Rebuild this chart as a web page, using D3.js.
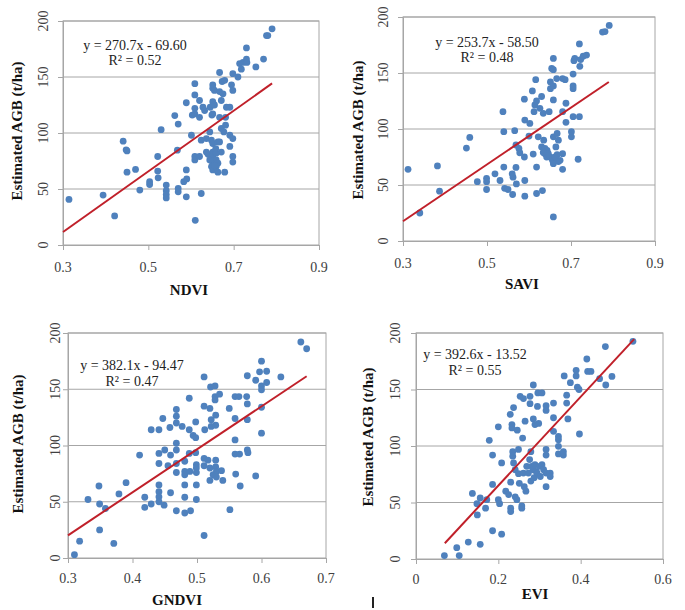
<!DOCTYPE html>
<html><head><meta charset="utf-8">
<script src="https://cdnjs.cloudflare.com/ajax/libs/d3/7.8.5/d3.min.js"></script>
<style>body{margin:0;background:#fff}svg{display:block}</style>
</head><body><svg id="c" width="685" height="610"></svg>
<script>
// ---------- data ----------
const yTicks = [0, 50, 100, 150, 200];
const ndviTicks = [0.3, 0.5, 0.7, 0.9];
const saviTicks = [0.3, 0.5, 0.7, 0.9];
const gndviTicks = [0.3, 0.4, 0.5, 0.6, 0.7];
const eviTicks = [0, 0.2, 0.4, 0.6];
const titles = ["NDVI", "SAVI", "GNDVI", "EVI"];
const equations = ["y = 270.7x - 69.60", "y = 253.7x - 58.50", "y = 382.1x - 94.47", "y = 392.6x - 13.52"];
const r2Labels = ["R\u00B2 = 0.52", "R\u00B2 = 0.48", "R\u00B2 = 0.47", "R\u00B2 = 0.55"];
const slopes = [270.7, 253.7, 382.1, 392.6];
const intercepts = [-69.60, -58.50, -94.47, -13.52];
const fitRanges = [[0.3, 0.79], [0.3, 0.79], [0.3, 0.67], [0.07, 0.53]];

const ndviPoints = [
[0.314,40.7],[0.394,44.6],[0.421,26],[0.441,92.7],[0.448,85],[0.45,84],[0.45,65],[0.470,67.5],[0.48,49],
[0.503,56.5],[0.503,54],[0.522,79],[0.522,66],[0.523,60],[0.530,103],[0.542,53.5],[0.542,48.5],[0.542,45],
[0.542,42],[0.562,115.6],[0.570,108],[0.568,84.7],[0.57,50.5],[0.57,47.5],[0.583,56.5],[0.589,127],[0.589,67],
[0.59,59],[0.589,43],[0.601,98],[0.603,116],[0.609,144],[0.609,134],[0.609,122],[0.609,117],[0.609,79],
[0.609,76],[0.61,22],[0.62,129],[0.62,114],[0.624,93.6],[0.62,79],[0.624,46],[0.628,123],[0.632,120],
[0.636,95],[0.64,81],[0.644,101],[0.645,123],[0.648,93.6],[0.649,116],[0.651,143],[0.651,140],[0.651,128],
[0.651,117],[0.651,90.6],[0.651,83],[0.651,79],[0.651,73],[0.651,67],[0.655,138],[0.655,125],[0.658,86],
[0.659,82],[0.659,76],[0.659,70],[0.663,92],[0.663,73],[0.667,154],[0.667,137],[0.667,114],[0.667,92],
[0.671,129],[0.671,104],[0.673,146],[0.675,135],[0.677,101],[0.679,147],[0.679,65],[0.681,114],[0.681,107],
[0.683,123],[0.691,123],[0.691,98],[0.691,88],[0.695,143],[0.698,153],[0.698,138],[0.698,95],[0.698,74],
[0.698,79],[0.71,150],[0.714,162],[0.718,157],[0.722,163],[0.73,176],[0.73,166],[0.731,163],[0.752,159],
[0.770,166],[0.777,187],[0.78,187],[0.79,193],[0.644,76],[0.648,70],[0.655,71],[0.636,83],[0.663,65],[0.671,83]
];
const saviPoints = [
[0.312,64],[0.34,25],[0.382,67],[0.387,44.5],[0.451,83],[0.459,92.5],[0.477,53],[0.499,56],[0.499,53],
[0.499,46],[0.519,60],[0.531,54],[0.538,115.5],[0.540,97.6],[0.540,66],[0.542,47],[0.55,46],[0.56,60],
[0.562,57],[0.561,41.5],[0.566,98.5],[0.569,85.7],[0.569,65.7],[0.570,51],[0.576,82.7],[0.578,78.8],
[0.589,126.6],[0.589,75],[0.59,54],[0.59,40],[0.59,108],[0.60,93.7],[0.602,105],[0.608,134],[0.61,77.6],
[0.612,115.5],[0.614,121.5],[0.616,144],[0.618,125],[0.618,66],[0.618,42.4],[0.622,93],[0.626,118.5],
[0.63,129],[0.63,84],[0.632,45],[0.634,114],[0.635,90],[0.638,82.7],[0.638,78],[0.642,75],[0.643,81],
[0.648,115.5],[0.65,75],[0.651,142],[0.651,136],[0.654,154],[0.656,72],[0.658,163],[0.658,153],[0.658,138.5],
[0.658,126],[0.658,93],[0.658,69],[0.658,21.5],[0.664,84],[0.666,145],[0.667,77],[0.667,96],[0.67,71],
[0.67,90],[0.674,72],[0.68,145],[0.68,115.5],[0.68,78],[0.68,64],[0.686,144],[0.688,123],[0.688,106],
[0.701,93],[0.701,97.6],[0.705,111],[0.705,136],[0.705,138.5],[0.705,149],[0.707,161],[0.709,163],[0.717,73],
[0.72,176],[0.721,156],[0.723,162],[0.729,165],[0.737,166],[0.72,111],[0.775,186.5],[0.781,187],[0.791,192.5],
[0.646,78],[0.662,75],[0.634,79]
];
const gndviPoints = [
[0.31,3],[0.318,15],[0.331,52],[0.348,64],[0.349,48],[0.349,25],[0.358,44],[0.371,13],[0.379,57],[0.39,67],
[0.411,91.5],[0.419,54],[0.419,45],[0.429,48],[0.429,114],[0.441,114],[0.441,93],[0.441,84],[0.441,65],
[0.441,59],[0.441,54.4],[0.441,50],[0.447,124],[0.449,47],[0.45,96],[0.455,82],[0.458,116],[0.459,91.5],
[0.459,58],[0.468,132],[0.468,126],[0.468,120],[0.468,102],[0.468,96],[0.468,84],[0.468,76],[0.468,42],
[0.477,117],[0.481,86],[0.481,77],[0.481,74],[0.481,65],[0.481,54],[0.481,40],[0.488,142],[0.488,114],
[0.488,93],[0.489,77],[0.49,42],[0.494,109],[0.498,121],[0.498,107],[0.498,93.6],[0.499,83],[0.499,80],
[0.499,76],[0.499,65],[0.499,52],[0.511,161],[0.511,135],[0.511,88.5],[0.511,82],[0.511,20],[0.512,114],
[0.517,87],[0.52,133],[0.52,80],[0.52,69],[0.521,152],[0.522,123],[0.522,117],[0.525,74],[0.528,153],
[0.528,143.5],[0.528,140.5],[0.529,127],[0.529,118],[0.529,87],[0.529,81],[0.53,77],[0.53,72],[0.535,145.6],
[0.538,77.6],[0.54,69],[0.55,133],[0.551,43],[0.559,143.5],[0.559,124],[0.559,105],[0.559,92.4],[0.56,74.6],
[0.565,143.5],[0.566,92.4],[0.567,64],[0.577,143.5],[0.578,162],[0.578,137],[0.578,123],[0.578,96],
[0.579,93.6],[0.591,158],[0.591,73],[0.597,165.5],[0.6,175],[0.6,149.5],[0.6,134],[0.6,111],[0.6,153],
[0.608,166],[0.608,156],[0.63,161],[0.661,192],[0.67,186]
];
const eviPoints = [
[0.069,3],[0.099,10],[0.105,3],[0.127,15],[0.137,58],[0.148,49],[0.149,39],[0.156,54],[0.156,13],[0.169,45],
[0.172,52.5],[0.178,105],[0.186,92],[0.186,66],[0.186,25],[0.2,117],[0.2,52.5],[0.203,49],[0.208,22],
[0.208,85],[0.218,60],[0.225,57],[0.229,128],[0.23,68],[0.23,45],[0.23,42],[0.233,119],[0.233,116],
[0.235,95],[0.235,91],[0.237,134],[0.237,85],[0.241,79],[0.241,55],[0.245,52.5],[0.246,114],[0.249,97],
[0.249,75.5],[0.251,67],[0.253,144],[0.257,47],[0.257,45],[0.261,142],[0.259,107],[0.261,76],[0.263,64],
[0.265,122],[0.267,60],[0.269,82],[0.273,76],[0.276,88],[0.277,144],[0.277,137.5],[0.279,95],[0.279,69],
[0.281,82],[0.284,79],[0.285,154],[0.285,124],[0.287,72],[0.289,119],[0.289,83.5],[0.292,77.6],[0.294,76],
[0.295,135],[0.296,147],[0.298,120],[0.3,82],[0.302,73],[0.306,147],[0.306,83.5],[0.31,79],[0.316,135.7],
[0.316,131.5],[0.316,97],[0.316,92],[0.316,64],[0.316,76],[0.326,76],[0.326,73],[0.334,138],[0.334,125],
[0.334,113],[0.346,108.5],[0.346,105.6],[0.346,99.7],[0.346,93],[0.358,92],[0.358,95],[0.36,162],[0.366,145],
[0.366,138],[0.369,124],[0.375,156],[0.389,167],[0.389,162],[0.392,152],[0.396,150],[0.397,110.6],[0.415,177],
[0.417,166],[0.425,166],[0.446,159.6],[0.46,188],[0.461,154],[0.476,161.6],[0.527,192.6]
];

// ---------- layout ----------
const panels = [
  {pts: ndviPoints, ticks: ndviTicks, L:63, R:319, T:21, B:245, xtb:272, xtitle:[189,295], ytx:43, ytitle:[17,131], eq:[135,50,65]},
  {pts: saviPoints, ticks: saviTicks, L:403, R:655, T:17, B:241, xtb:268, xtitle:[522,289], ytx:383, ytitle:[358,130], eq:[487,47,62]},
  {pts: gndviPoints, ticks: gndviTicks, L:68, R:326, T:333, B:558, xtb:583, xtitle:[177,605], ytx:55, ytitle:[18,444], eq:[132,370,386]},
  {pts: eviPoints, ticks: eviTicks, L:416, R:663, T:333, B:559, xtb:584, xtitle:[535,599], ytx:395, ytitle:[368,437], eq:[475,359,375]}
];

const svg = d3.select("#c");
const font = "'Liberation Serif','Times New Roman',serif";
const gray = "#a6a6a6";

panels.forEach((p, i) => {
  const ticks = p.ticks;
  const x = d3.scaleLinear().domain([ticks[0], ticks[ticks.length-1]]).range([p.L, p.R]);
  const y = d3.scaleLinear().domain([0, 200]).range([p.B, p.T]);
  const g = svg.append("g");

  // gridlines
  g.selectAll(".grid").data(yTicks.slice(1)).join("line")
    .attr("x1", p.L).attr("x2", p.R)
    .attr("y1", d => y(d)).attr("y2", d => y(d))
    .attr("stroke", gray).attr("stroke-width", 1);
  // frame
  g.append("rect").attr("x", p.L).attr("y", p.T).attr("width", p.R - p.L).attr("height", p.B - p.T)
    .attr("fill", "none").attr("stroke", gray);

  // axes (ticks only)
  const xa = g.append("g").attr("transform", `translate(0,${p.B})`)
    .call(d3.axisBottom(x).tickValues(ticks).tickSize(5).tickFormat(""));
  const ya = g.append("g").attr("transform", `translate(${p.L},0)`)
    .call(d3.axisLeft(y).tickValues(yTicks).tickSize(5).tickFormat(""));
  [xa, ya].forEach(a => { a.select(".domain").attr("stroke", gray); a.selectAll(".tick line").attr("stroke", gray); });

  // x tick labels
  g.selectAll(".xl").data(ticks).join("text")
    .attr("x", d => x(d)).attr("y", p.xtb)
    .attr("text-anchor", "middle").attr("font-family", font).attr("font-size", 14).attr("fill", "#404040")
    .text(d => d3.format("")(d));
  // y tick labels (rotated)
  g.selectAll(".yl").data(yTicks).join("text")
    .attr("transform", d => `translate(${p.ytx},${y(d)}) rotate(-90)`)
    .attr("dy", "0.35em")
    .attr("text-anchor", "middle").attr("font-family", font).attr("font-size", 14).attr("fill", "#404040")
    .text(d => d);

  // axis titles
  g.append("text").attr("x", p.xtitle[0]).attr("y", p.xtitle[1])
    .attr("text-anchor", "middle").attr("font-family", font).attr("font-size", 15).attr("font-weight", "bold")
    .attr("fill", "#111").text(titles[i]);
  g.append("text").attr("transform", `translate(${p.ytitle[0]},${p.ytitle[1]}) rotate(-90)`)
    .attr("dy", "0.35em")
    .attr("text-anchor", "middle").attr("font-family", font).attr("font-size", 15).attr("font-weight", "bold")
    .attr("fill", "#111").text("Estimated AGB (t/ha)");

  // points
  g.selectAll(".pt").data(p.pts).join("circle")
    .attr("cx", d => x(d[0])).attr("cy", d => y(d[1])).attr("r", 3.4)
    .attr("fill", "#4f81bd");

  // regression line
  const fr = fitRanges[i];
  g.append("line")
    .attr("x1", x(fr[0])).attr("y1", y(slopes[i]*fr[0] + intercepts[i]))
    .attr("x2", x(fr[1])).attr("y2", y(slopes[i]*fr[1] + intercepts[i]))
    .attr("stroke", "#c0202a").attr("stroke-width", 2);

  // equation
  g.append("text").attr("x", p.eq[0]).attr("y", p.eq[1]).attr("text-anchor", "middle")
    .attr("font-family", font).attr("font-size", 14).attr("fill", "#222").text(equations[i]);
  g.append("text").attr("x", p.eq[0]).attr("y", p.eq[2]).attr("text-anchor", "middle")
    .attr("font-family", font).attr("font-size", 14).attr("fill", "#222").text(r2Labels[i]);
});

// small vertical mark near the bottom centre of the original figure
svg.append("line").attr("x1", 373).attr("x2", 373).attr("y1", 597).attr("y2", 608)
  .attr("stroke", "#222").attr("stroke-width", 2);
</script></body></html>
